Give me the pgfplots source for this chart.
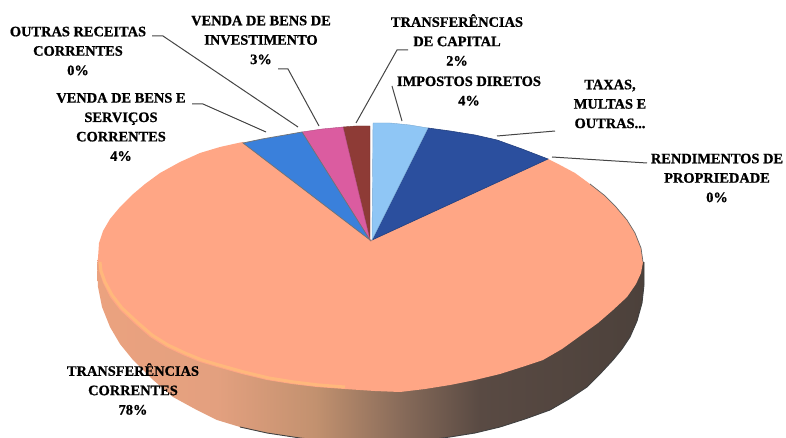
\documentclass[border=0pt]{standalone}
\usepackage{fontspec}
\setmainfont[BoldFeatures={FakeBold=0.9}]{Liberation Serif}
\usepackage{pgfplots}
\pgfplotsset{compat=1.18}
\definecolor{taxa}{HTML}{2B4F9E}
\definecolor{imposto}{HTML}{8FC6F5}
\definecolor{capital}{HTML}{8E3B36}
\definecolor{invest}{HTML}{DB5CA0}
\definecolor{servico}{HTML}{3A80DB}
\definecolor{corrente}{HTML}{FFA685}
\definecolor{leader}{HTML}{454545}
\definecolor{sideA}{HTML}{EBA27F}
\definecolor{sideB}{HTML}{E3A07F}
\definecolor{sideC}{HTML}{C2916F}
\definecolor{sideD}{HTML}{866A59}
\definecolor{sideE}{HTML}{594A43}
\definecolor{sideF}{HTML}{4C413B}
\pgfdeclarehorizontalshading{pieside}{100bp}{
  color(0bp)=(sideA); color(25bp)=(sideA); color(36bp)=(sideB); color(45bp)=(sideC);
  color(53bp)=(sideD); color(60bp)=(sideE); color(75bp)=(sideF); color(100bp)=(sideF)}
\begin{document}
\begin{tikzpicture}
\begin{axis}[
    width=786pt, height=438pt, scale only axis,
    xmin=0, xmax=786, ymin=0, ymax=438,
    y dir=reverse,
    hide axis,
    nodes={font=\fontsize{14.4}{19.4}\selectfont\bfseries, align=center, text=black, inner sep=0pt},
]
% side wall
\addplot[draw=none, shading=pieside] coordinates {
  (371,258) (644,262) (644,270) (644,285) (642,303) (637,321) (630,337) (622,349) (613,360)
  (600,374) (587,387) (569,399) (550,410) (525,419) (500,427) (475,433) (450,437) (420,441)
  (380,443) (340,442) (300,438) (267,433) (240,427) (217,420) (195,409) (173,397) (152,379)
  (133,360) (120,344) (110,327) (102,307) (98,287) (97,265) (98,258)} -- cycle;
% dark bottom edge
\addplot[black!75, line width=0.9pt] coordinates {
  (644,262) (644,285) (642,303) (637,321) (630,337) (622,349) (613,360) (600,374) (587,387)
  (569,399) (550,410) (525,419) (500,427) (475,433) (450,437) (420,441) (340,442) (300,438)
  (267,433) (240,427)};
% top face
\addplot[fill=corrente, draw=none] coordinates {
  (371,240) (548,159) (560,165) (575,173) (590,184) (604,195) (616,207) (627,220) (635,233)
  (641,248) (643,262) (641,273) (636,284) (627,297) (613,310) (598,323) (580,336) (562,349)
  (543,360) (522,367) (500,374) (475,380) (450,385) (425,389) (400,392) (375,391) (345,389)
  (317,387) (292,384) (267,380) (242,374) (217,367) (200,362) (183,355) (166,347) (150,337)
  (135,324) (120,310) (110,297) (103,283) (99,271) (98,258) (99,243) (103,231) (110,219)
  (120,207) (132,195) (145,184) (160,173) (180,162) (200,153) (220,147) (238,143) (243,142)} -- cycle;
% rim highlight on the left
\addplot[color=corrente!70!yellow!85!white, line width=3pt, opacity=0.5] coordinates {
  (100,262) (101,271) (105,282) (112,295) (122,308) (137,322) (152,335) (168,345) (185,353)
  (202,360) (219,365) (244,372) (269,378) (294,382) (319,385) (345,387)};
% dark line on the right rim
\addplot[black!60, line width=0.7pt] coordinates {
  (590,184) (604,195) (616,207) (627,220) (635,233) (641,248) (643,262)};
% wedges
\addplot[fill=taxa, draw=taxa!80!black, line width=0.6pt] coordinates {
  (372,240) (428,128) (450,131) (475,135) (497,140) (522,149) (548,159)} -- cycle;
\addplot[fill=imposto, draw=imposto!85!black, line width=0.4pt] coordinates {
  (372,240) (373,123) (390,123) (410,125) (428,128)} -- cycle;
\addplot[fill=capital, draw=capital!80!black, line width=0.4pt] coordinates {
  (370,240) (370,126) (356,126) (343,127)} -- cycle;
\addplot[fill=invest, draw=invest!80!black, line width=0.4pt] coordinates {
  (370,240) (343,127) (322,129) (302,132)} -- cycle;
\addplot[fill=servico, draw=black!55, line width=0.7pt] coordinates {
  (370,240) (302,132) (285,135) (262,139) (243,143)} -- cycle;
% leader lines
\addplot[leader, line width=1pt] coordinates {(152,36) (163,36) (298,127)};
\addplot[leader, line width=1pt] coordinates {(192,104) (203,104) (266,132)};
\addplot[leader, line width=1pt] coordinates {(278,69) (288,69) (319,126)};
\addplot[leader, line width=1pt] coordinates {(408,50) (397,50) (356,123)};
\addplot[leader, line width=1pt] coordinates {(392,86) (402,121)};
\addplot[leader, line width=1pt] coordinates {(555,131) (497,136)};
\addplot[leader, line width=1pt] coordinates {(647,163) (552,157)};
% labels
\node at (axis cs:78,51) {OUTRAS RECEITAS\\CORRENTES\\0\%};
\node at (axis cs:121,127) {VENDA DE BENS E\\SERVIÇOS\\CORRENTES\\4\%};
\node at (axis cs:261,40) {VENDA DE BENS DE\\INVESTIMENTO\\3\%};
\node at (axis cs:457,40) {TRANSFERÊNCIAS\\DE CAPITAL\\2\%};
\node at (axis cs:469,91) {IMPOSTOS DIRETOS\\4\%};
\node at (axis cs:610,104) {TAXAS,\\MULTAS E\\OUTRAS...};
\node at (axis cs:717,178) {RENDIMENTOS DE\\PROPRIEDADE\\0\%};
\node at (axis cs:133,389) {TRANSFERÊNCIAS\\CORRENTES\\78\%};
\end{axis}
\pgfresetboundingbox
\useasboundingbox (0,0) rectangle (786pt,438pt);
\end{tikzpicture}
\end{document}
